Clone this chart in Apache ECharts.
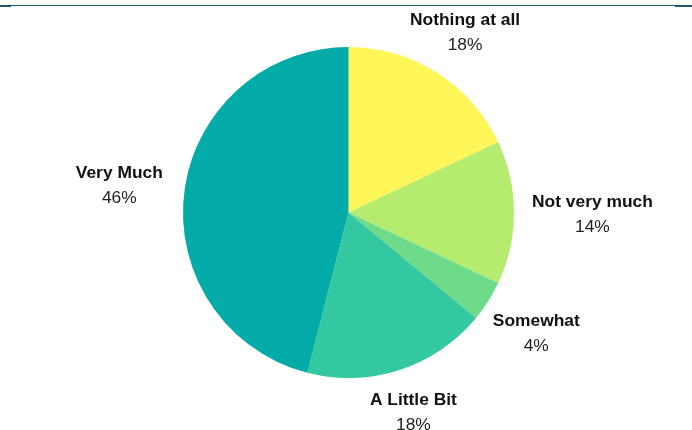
<!DOCTYPE html>
<html>
<head>
<meta charset="utf-8">
<script src="https://cdn.jsdelivr.net/npm/echarts@6/dist/echarts.min.js"></script>
<style>
html,body{margin:0;padding:0;background:#fff;}
#chart{width:692px;height:430px;}
</style>
</head>
<body>
<div id="chart"></div>
<script>
// Data
const categories = ['Nothing at all', 'Not very much', 'Somewhat', 'A Little Bit', 'Very Much'];
const values = [18, 14, 4, 18, 46];

// Styles
const sliceColors = ['#FFF65A', '#B5EC6F', '#6EDB8B', '#33C8A0', '#03ABA8'];
const lineLen = [50, 18, 57.5, 43, 62];
const lineLen2 = [-54, 0, -44, -43, -40];

const chart = echarts.init(document.getElementById('chart'), null, {renderer: 'canvas'});

const seriesData = categories.map((name, i) => ({
  name: name,
  value: values[i],
  itemStyle: {color: sliceColors[i]},
  labelLine: {show: false, length: lineLen[i], length2: lineLen2[i]}
}));

chart.setOption({
  animation: false,
  backgroundColor: '#ffffff',
  graphic: [
    {type: 'rect', shape: {x: 0, y: 5, width: 692, height: 1}, style: {fill: '#1d5a6a'}, silent: true},
    {type: 'rect', shape: {x: 0, y: 5, width: 11, height: 2}, style: {fill: '#1d5a6a'}, silent: true},
    {type: 'rect', shape: {x: 675, y: 5, width: 17, height: 2}, style: {fill: '#1d5a6a'}, silent: true}
  ],
  series: [{
    type: 'pie',
    left: 0, top: 0, width: 692, height: 480,
    center: [348.5, 212.5],
    radius: [0, 165.5],
    startAngle: 90,
    clockwise: true,
    avoidLabelOverlap: false,
    itemStyle: {borderWidth: 0},
    emphasis: {disabled: true},
    label: {
      show: true,
      position: 'outside',
      distanceToLabelLine: 0,
      padding: [4, 0, 0, 0],
      fontFamily: 'Liberation Sans',
      formatter: function (p) { return '{b|' + p.name + '}\n{p|' + Math.round(p.percent) + '%}'; },
      rich: {
        b: {fontFamily: 'Liberation Sans', fontSize: 17.4, fontWeight: 'bold', color: '#111', lineHeight: 25, align: 'center'},
        p: {fontFamily: 'Liberation Sans', fontSize: 17.4, color: '#222', lineHeight: 25, align: 'center'}
      }
    },
    labelLine: {show: false},
    data: seriesData
  }]
});
</script>
</body>
</html>
